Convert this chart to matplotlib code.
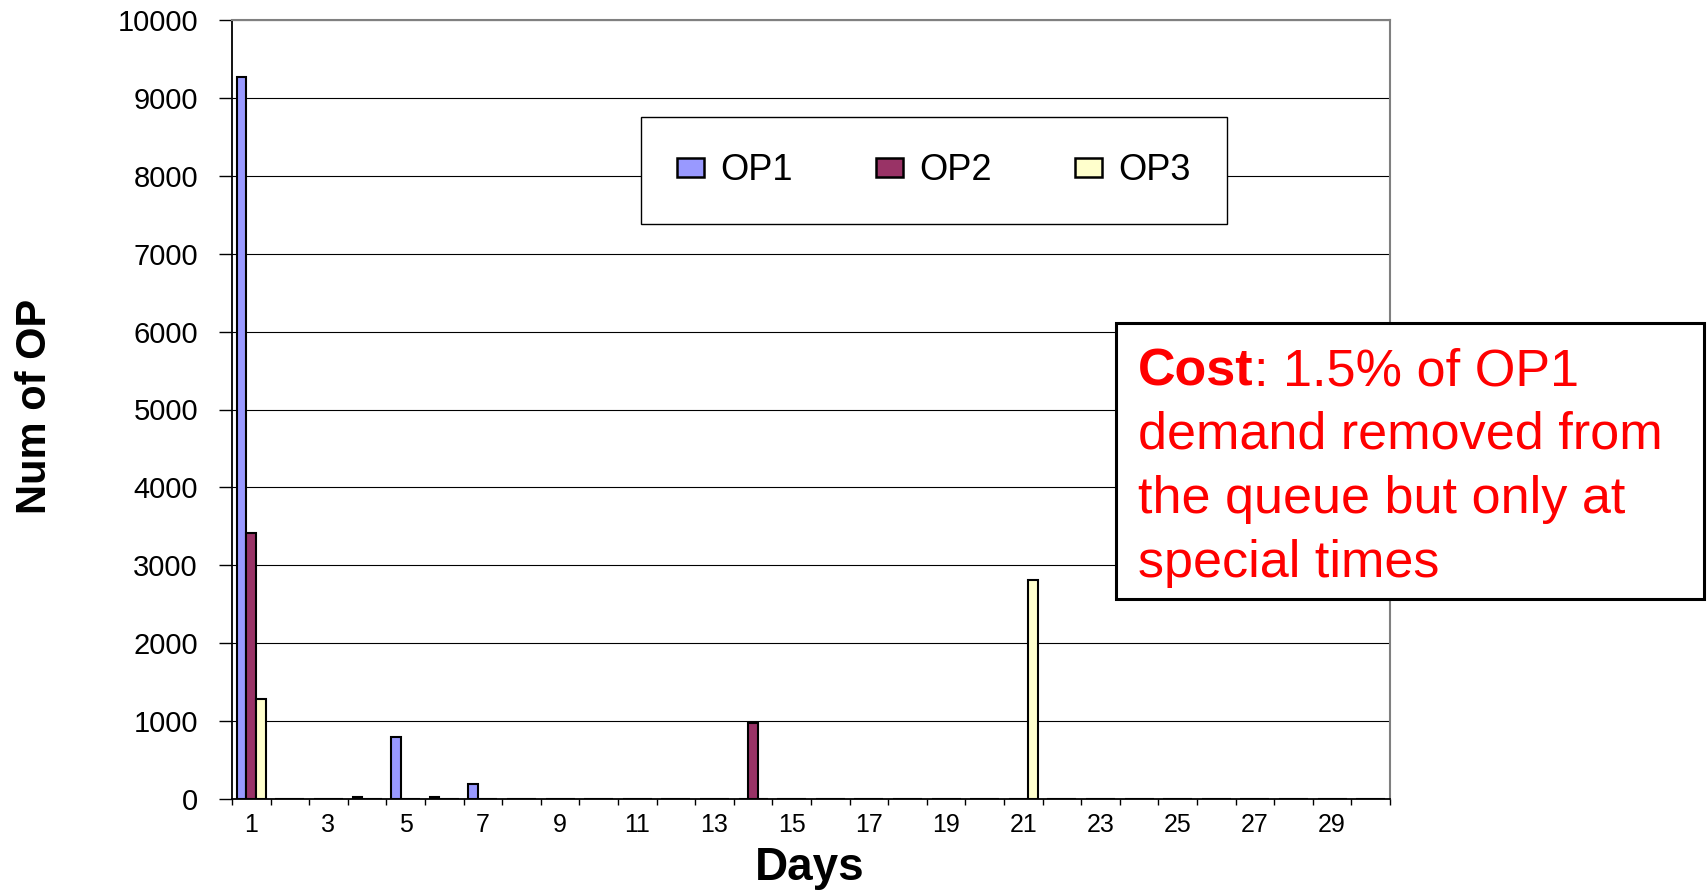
import matplotlib
matplotlib.use("Agg")
import matplotlib.pyplot as plt
from matplotlib.patches import Rectangle
import numpy as np

plt.rcParams['font.family'] = ['Liberation Sans', 'DejaVu Sans']

# Daily counts per operation class
days = list(range(1, 31))
op1 = [9270, 0, 0, 20, 800, 20, 190, 0, 0, 0,
       0, 0, 0, 0, 0, 0, 0, 0, 0, 0,
       0, 0, 0, 0, 0, 0, 0, 0, 0, 0]
op2 = [3420, 0, 0, 0, 0, 0, 0, 0, 0, 0,
       0, 0, 0, 975, 0, 0, 0, 0, 0, 0,
       0, 0, 0, 0, 0, 0, 0, 0, 0, 0]
op3 = [1290, 0, 0, 0, 0, 0, 0, 0, 0, 0,
       0, 0, 0, 0, 0, 0, 0, 0, 0, 0,
       2810, 0, 0, 0, 0, 0, 0, 0, 0, 0]
series_names = ["OP1", "OP2", "OP3"]
series_colors = ["#9999FF", "#993366", "#FFFFCC"]
y_ticks = list(range(0, 10001, 1000))

W, H = 1707, 892
fig = plt.figure(figsize=(W / 100, H / 100), dpi=100)
ax = fig.add_axes([232 / W, 1 - 799 / H, (1390 - 232) / W, (799 - 20) / H])

x = np.arange(len(days))
bw = 0.25
handles = []
for i, (vals, name, col) in enumerate(zip([op1, op2, op3], series_names, series_colors)):
    h = ax.bar(x + (i - 1) * bw, vals, bw, color=col, edgecolor="black",
               linewidth=1.5, label=name, zorder=3)
    handles.append(h)

ax.set_xlim(-0.5, len(days) - 0.5)
ax.set_ylim(0, 10000)
ax.set_yticks(y_ticks)
ax.set_yticklabels([str(v) for v in y_ticks])
ax.set_xticks(x[::2])
ax.set_xticklabels([str(d) for d in days[::2]])
ax.set_xticks(np.arange(-0.5, len(days), 1), minor=True)

ax.tick_params(axis="y", which="major", length=9.5, width=1, pad=15,
               labelsize=21, color="black")
ax.tick_params(axis="x", which="major", length=0, pad=10, labelsize=18)
ax.tick_params(axis="x", which="minor", length=4.5, width=1, color="black")

ax.yaxis.grid(True, color="black", linewidth=0.8)
ax.set_axisbelow(True)

for side in ("left", "bottom"):
    ax.spines[side].set_color("black")
    ax.spines[side].set_linewidth(1.3)
for side in ("top", "right"):
    ax.spines[side].set_color("#808080")
    ax.spines[side].set_linewidth(1.5)

leg = ax.legend(handles=handles, loc="upper left", bbox_to_anchor=(0.353, 0.8755),
                ncol=3, fontsize=26, frameon=True, fancybox=False, shadow=False,
                framealpha=1, edgecolor="black", borderpad=1.0, handlelength=0.75,
                handleheight=0.45, handletextpad=0.45, columnspacing=2.3,
                borderaxespad=0)
leg.get_frame().set_linewidth(1.0)
for p in leg.get_patches():
    p.set_linewidth(1.8)
leg.set_zorder(5)

# Axis titles
fig.text(35 / W, 1 - 406 / H, "Num of OP", rotation=90, ha="center", va="center",
         fontsize=30, fontweight="bold")
fig.text(810 / W, 1 - 880 / H, "Days", ha="center", va="baseline",
         fontsize=33, fontweight="bold")

# Callout box
box = Rectangle((1116 / W, 1 - 599 / H), (1704 - 1116) / W, (599 - 323) / H,
                transform=fig.transFigure, facecolor="white", edgecolor="black",
                linewidth=2.2, zorder=10)
fig.add_artist(box)

red = "#FF0000"
fs = 37.5
t0 = fig.text(1138 / W, 1 - 385 / H, "Cost", ha="left", va="baseline",
              fontsize=fs, fontweight="bold", color=red, zorder=11)
renderer = fig.canvas.get_renderer()
bb = t0.get_window_extent(renderer=renderer)
fig.text(bb.x1 / W, 1 - 385 / H, ": 1.5% of OP1", ha="left", va="baseline",
         fontsize=fs, color=red, zorder=11)
callout_lines = ["demand removed from", "the queue but only at", "special times"]
for k, line in enumerate(callout_lines):
    fig.text(1138 / W, 1 - (385 + 64 * (k + 1)) / H, line, ha="left",
             va="baseline", fontsize=fs, color=red, zorder=11)

fig.savefig("out.png", dpi=100)
